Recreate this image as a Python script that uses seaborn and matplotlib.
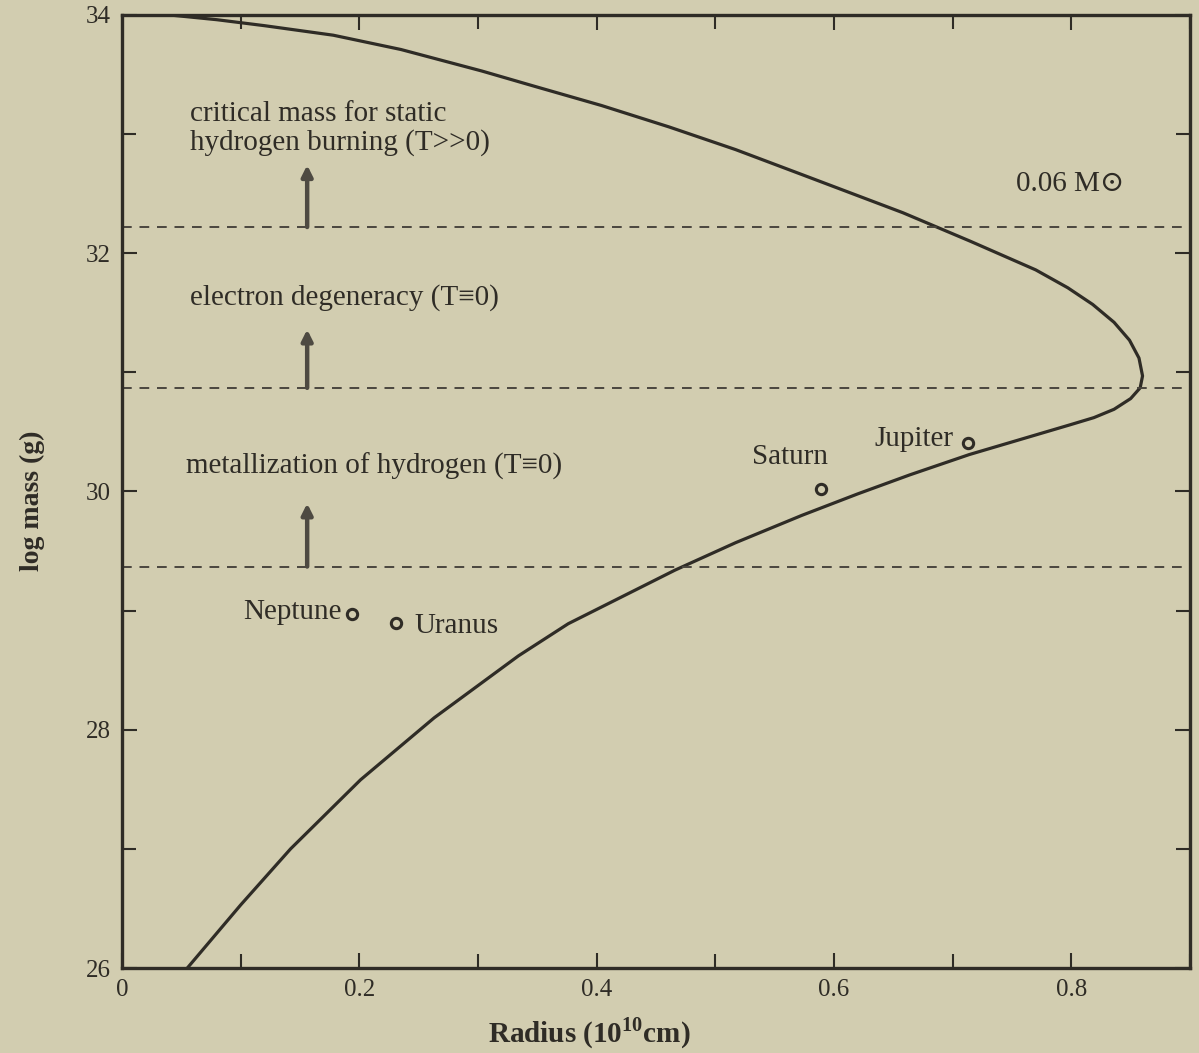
import matplotlib
matplotlib.use("Agg")
import matplotlib.pyplot as plt
import seaborn as sns
import pandas as pd
from matplotlib.ticker import MultipleLocator

# Mass-radius relation for cold hydrogen spheres (traced from low to high mass)
radius = [0.055, 0.100, 0.142, 0.201, 0.263, 0.334, 0.376, 0.432, 0.466, 0.517,
          0.573, 0.620, 0.664, 0.714, 0.782, 0.799, 0.819, 0.836, 0.850, 0.858,
          0.860, 0.857, 0.849, 0.836, 0.818, 0.797, 0.770, 0.715, 0.658, 0.573,
          0.517, 0.461, 0.404, 0.348, 0.303, 0.235, 0.178, 0.120, 0.080, 0.040]
log_mass = [26.0, 26.53, 27.0, 27.58, 28.10, 28.62, 28.89, 29.17, 29.34, 29.57,
            29.80, 29.98, 30.14, 30.31, 30.51, 30.56, 30.62, 30.69, 30.78, 30.87,
            30.97, 31.12, 31.27, 31.42, 31.57, 31.71, 31.86, 32.10, 32.34, 32.66,
            32.87, 33.06, 33.24, 33.40, 33.53, 33.71, 33.83, 33.91, 33.96, 34.0]

# Planets
planets = ["Neptune", "Uranus", "Saturn", "Jupiter"]
planet_radius = [0.194, 0.231, 0.589, 0.713]
planet_log_mass = [28.97, 28.90, 30.02, 30.41]

# Transition levels (log mass) and their labels
levels = [29.37, 30.87, 32.22]
level_labels = ["metallization of hydrogen (T\u22610)",
                "electron degeneracy (T\u22610)",
                "critical mass for static\nhydrogen burning (T>>0)"]

x_ticks = [0, 0.2, 0.4, 0.6, 0.8]
x_tick_labels = ["0", "0.2", "0.4", "0.6", "0.8"]
y_ticks = [26, 28, 30, 32, 34]

paper = "#d2cdb0"
ink = "#2f2c26"

sns.set_theme(style="ticks")
plt.rcParams["font.family"] = ["Liberation Serif", "DejaVu Serif"]
plt.rcParams["mathtext.fontset"] = "custom"
plt.rcParams["mathtext.rm"] = "Liberation Serif"
plt.rcParams["mathtext.bf"] = "Liberation Serif:bold"
plt.rcParams["text.color"] = ink
plt.rcParams["axes.labelcolor"] = ink
plt.rcParams["xtick.color"] = ink
plt.rcParams["ytick.color"] = ink

fig = plt.figure(figsize=(11.99, 10.53), dpi=100, facecolor=paper)
ax = fig.add_axes([0.1018, 0.0807, 0.8907, 0.9051])
ax.set_facecolor(paper)

curve = pd.DataFrame({"radius": radius, "log_mass": log_mass})
sns.lineplot(data=curve, x="radius", y="log_mass", sort=False, estimator=None,
             color=ink, linewidth=2.3, ax=ax)

for lv in levels:
    ax.axhline(lv, color="#4a463e", linestyle=(0, (5, 4)), linewidth=1.4)

pts = pd.DataFrame({"planet": planets, "radius": planet_radius,
                    "log_mass": planet_log_mass})
sns.scatterplot(data=pts, x="radius", y="log_mass", s=55, facecolor=paper,
                edgecolor=ink, linewidth=2.2, ax=ax, zorder=5)

fs = 21
ax.text(0.054, 30.21, level_labels[0], fontsize=fs, ha="left", va="center")
ax.text(0.057, 31.63, level_labels[1], fontsize=fs, ha="left", va="center")
ax.text(0.057, 33.05, level_labels[2], fontsize=fs, ha="left", va="center",
        linespacing=1.1)

# upward arrows from each level
arrow_tops = [29.9, 31.36, 32.74]
for lv, top in zip(levels, arrow_tops):
    ax.annotate("", xy=(0.156, top), xytext=(0.156, lv),
                arrowprops=dict(arrowstyle="-|>", color="#4e4a42", lw=3.2,
                                mutation_scale=16, shrinkA=0, shrinkB=0))

ax.text(0.185, 28.99, "Neptune", fontsize=fs, ha="right", va="center")
ax.text(0.246, 28.87, "Uranus", fontsize=fs, ha="left", va="center")
ax.text(0.563, 30.29, "Saturn", fontsize=fs, ha="center", va="center")
ax.text(0.701, 30.44, "Jupiter", fontsize=fs, ha="right", va="center")
ax.text(0.753, 32.58, "0.06 M\u2299", fontsize=fs, ha="left", va="center")

ax.set_xlim(0, 0.9)
ax.set_ylim(26, 34)
ax.set_xticks(x_ticks)
ax.set_xticklabels(x_tick_labels)
ax.set_yticks(y_ticks)
ax.xaxis.set_minor_locator(MultipleLocator(0.1))
ax.yaxis.set_minor_locator(MultipleLocator(1))
ax.tick_params(which="both", direction="in", top=True, right=True,
               labelsize=18, width=1.5, pad=8)
ax.tick_params(which="major", length=11)
ax.tick_params(which="minor", length=10)

for sp in ax.spines.values():
    sp.set_linewidth(2.4)
    sp.set_color(ink)

ax.set_xlabel("Radius (10$^{\\mathbf{10}}$cm)", fontsize=21, fontweight="bold")
ax.set_ylabel("log mass (g)", fontsize=20, fontweight="bold")
ax.xaxis.set_label_coords(0.438, -0.05)
ax.yaxis.set_label_coords(-0.072, 0.49)

fig.savefig("out.png", dpi=100, facecolor=paper)
